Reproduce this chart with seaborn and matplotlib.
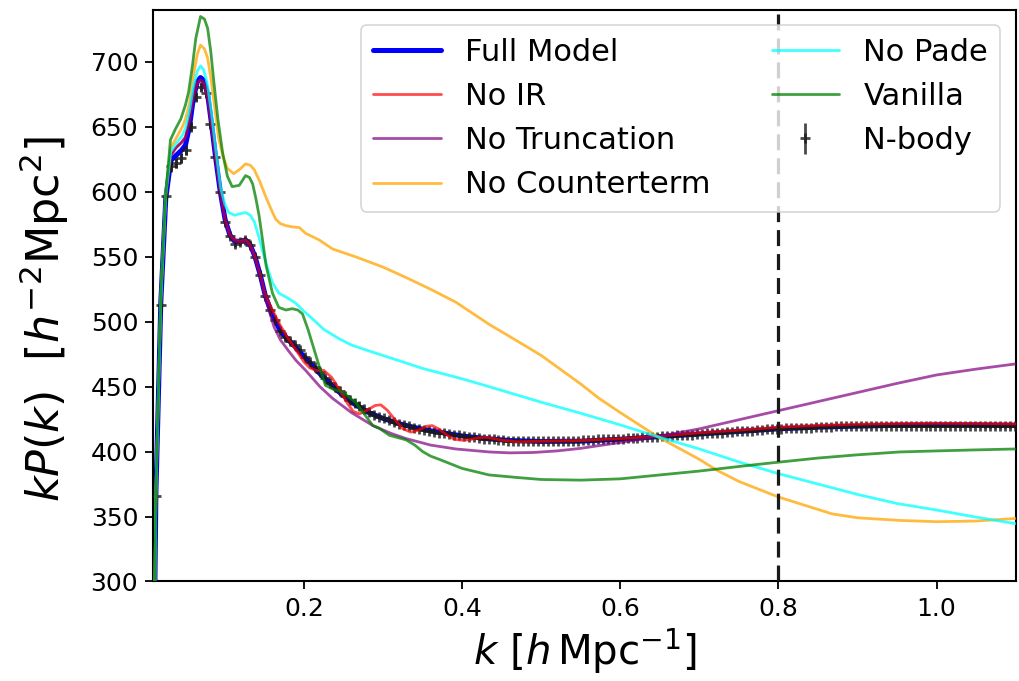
import matplotlib
matplotlib.use("Agg")
import matplotlib.pyplot as plt
import seaborn as sns
import numpy as np

# ---------------- data ----------------
full_k = [0.0095, 0.0126, 0.0188, 0.0251, 0.0314, 0.038, 0.045, 0.05, 0.055, 0.06, 0.065, 0.069, 0.073,
          0.078, 0.083, 0.088, 0.094, 0.1, 0.106, 0.112, 0.12, 0.126, 0.132, 0.138, 0.145, 0.151, 0.16,
          0.17, 0.18, 0.19, 0.2, 0.22, 0.24, 0.26, 0.28, 0.3, 0.32, 0.34, 0.36, 0.38, 0.4, 0.43, 0.46,
          0.5, 0.55, 0.6, 0.65, 0.7, 0.75, 0.8, 0.85, 0.9, 0.95, 1.0, 1.05, 1.1]
full_P = [200, 368, 515, 595, 624, 628, 632, 636, 650, 672, 685, 688, 686,
          675, 652, 627, 600, 579, 567, 562, 562, 563, 559, 550, 535, 520, 505,
          493, 486, 480, 473, 460, 448, 438, 430.5, 425.5, 421.5, 418.5, 416, 414, 412, 410, 408.5,
          407.8, 408, 409.5, 411.5, 413.5, 415.5, 417.5, 418.8, 419.6, 420.2, 420.5, 420.5, 420.2]

noir_k = [0.0095, 0.0126, 0.0188, 0.0251, 0.0314, 0.038, 0.045, 0.05, 0.055, 0.06, 0.065, 0.069, 0.073,
          0.078, 0.083, 0.088, 0.094, 0.1, 0.106, 0.112, 0.12, 0.126, 0.132, 0.138, 0.145, 0.151, 0.16,
          0.17, 0.18, 0.19, 0.2, 0.207, 0.215, 0.225, 0.235, 0.245, 0.255, 0.262, 0.27, 0.28, 0.29,
          0.297, 0.305, 0.315, 0.325, 0.335, 0.345, 0.355, 0.362, 0.37, 0.38, 0.39, 0.4, 0.41, 0.42,
          0.43, 0.44, 0.45, 0.47, 0.5, 0.55, 0.6, 0.65, 0.7, 0.75, 0.8, 0.85, 0.9, 0.95, 1.0, 1.05, 1.1]
noir_P = [200, 368, 516, 597, 628, 634, 638, 642, 655, 674, 684, 686, 684,
          673, 651, 627, 600, 579, 567, 563, 562, 563, 559, 550, 535, 521, 509,
          497, 487, 478, 469, 464.5, 462.5, 462.5, 457, 447.5, 437, 431, 429, 432, 435.5,
          436, 432, 424.5, 417.5, 415, 416.5, 419.5, 420, 417.5, 413, 409.5, 408.7, 409.2, 410.5,
          411, 410, 408.7, 407.5, 408, 408.5, 410, 412, 414.5, 416.5, 418.8, 420.2, 421, 421.6, 421.8, 421.6, 421.3]

notr_k = [0.0095, 0.0126, 0.0188, 0.0251, 0.0314, 0.038, 0.045, 0.05, 0.055, 0.06, 0.065, 0.069, 0.073,
          0.078, 0.083, 0.088, 0.094, 0.1, 0.106, 0.112, 0.12, 0.126, 0.132, 0.138, 0.145, 0.151, 0.162,
          0.17, 0.181, 0.19, 0.202, 0.22, 0.236, 0.26, 0.287, 0.31, 0.329, 0.36, 0.392, 0.434, 0.46,
          0.49, 0.52, 0.55, 0.6, 0.647, 0.7, 0.75, 0.8, 0.85, 0.9, 0.95, 1.0, 1.05, 1.1]
notr_P = [200, 368, 516, 597, 628, 634, 638, 642, 655, 674, 684, 686, 684,
          673, 651, 627, 600, 579, 567, 562, 561, 562, 558, 549, 534, 518, 496,
          486, 477, 470, 462.5, 450, 441, 430, 420, 414, 410, 405, 402, 399.7, 399,
          399.3, 400.5, 402.5, 407, 411.5, 417.5, 424.5, 431.5, 438.5, 445.5, 452.5, 459, 463.5, 467.5]

noct_k = [0.0095, 0.0126, 0.0188, 0.0251, 0.0314, 0.038, 0.046, 0.05, 0.055, 0.061, 0.065, 0.069, 0.074,
          0.078, 0.082, 0.087, 0.092, 0.098, 0.103, 0.111, 0.118, 0.126, 0.132, 0.137, 0.144, 0.151,
          0.158, 0.164, 0.17, 0.177, 0.185, 0.194, 0.202, 0.219, 0.236, 0.265, 0.3, 0.329, 0.36, 0.392,
          0.434, 0.47, 0.5, 0.55, 0.573, 0.6, 0.647, 0.7, 0.721, 0.75, 0.8, 0.868, 0.9, 0.953, 1.0, 1.05, 1.1]
noct_P = [200, 370, 520, 600, 634, 641, 650, 656, 668, 693, 706, 713, 710,
          703, 688, 665, 641, 626, 618, 614, 617, 621.5, 620.5, 617, 608, 597,
          587, 579, 575.5, 574, 573, 572.5, 568, 563, 556, 550, 542, 534, 525, 515,
          498, 485, 474, 452, 441, 430, 411.5, 394, 386, 377, 365, 352, 349, 347, 346, 346.5, 348.5]

nopade_k = [0.0095, 0.0126, 0.0188, 0.0251, 0.0314, 0.038, 0.046, 0.05, 0.055, 0.06, 0.065, 0.069, 0.073,
            0.078, 0.083, 0.088, 0.0945, 0.1, 0.105, 0.112, 0.118, 0.126, 0.132, 0.137, 0.143, 0.149,
            0.155, 0.16, 0.168, 0.177, 0.189, 0.2, 0.211, 0.225, 0.244, 0.26, 0.287, 0.32, 0.35, 0.4,
            0.434, 0.5, 0.55, 0.6, 0.647, 0.7, 0.75, 0.8, 0.85, 0.9, 0.95, 1.0, 1.05, 1.1]
nopade_P = [200, 368, 517, 598, 631, 637, 643.5, 649, 662, 681, 693, 697, 694,
            682, 660, 634, 603, 590, 584, 582, 583, 584, 582, 577, 565, 551,
            539, 530, 522, 519, 514.5, 508, 502, 494, 487, 482, 476.5, 470, 464, 456,
            450, 438, 429.5, 420.5, 411.5, 402, 392, 383, 375, 367, 360, 355, 349.5, 344.5]

van_k = [0.0095, 0.0126, 0.0188, 0.025, 0.031, 0.037, 0.044, 0.05, 0.054, 0.059, 0.063, 0.069, 0.074,
         0.078, 0.082, 0.086, 0.091, 0.097, 0.103, 0.109, 0.118, 0.126, 0.131, 0.135, 0.139, 0.143,
         0.147, 0.152, 0.16, 0.168, 0.177, 0.185, 0.192, 0.198, 0.205, 0.211, 0.219, 0.227, 0.237,
         0.248, 0.265, 0.287, 0.295, 0.308, 0.329, 0.34, 0.35, 0.36, 0.371, 0.4, 0.434, 0.47, 0.5,
         0.55, 0.6, 0.65, 0.7, 0.75, 0.784, 0.85, 0.9, 0.953, 1.0, 1.05, 1.1]
van_P = [200, 370, 522, 598, 640, 648, 656, 667, 677, 698, 718, 735, 733,
         726, 708, 684, 656, 630, 612, 604, 605, 612.5, 611, 606, 595, 582,
         565, 543, 522, 511, 509, 510, 509, 506, 494, 482, 466, 451, 448,
         446, 438, 420, 418, 412.5, 409, 405, 400, 396.5, 394, 387, 382, 380, 378.5,
         378, 379, 382, 385, 388.5, 390.8, 395, 397.5, 399.7, 400.5, 401.3, 402]

nbody_k = [0.0126, 0.0188, 0.0251, 0.0314, 0.0377, 0.0440, 0.0502, 0.0565, 0.0628, 0.0691,
           0.0754, 0.0816, 0.0879, 0.0942, 0.1005, 0.1068, 0.1130, 0.1193, 0.1256, 0.1319,
           0.1382, 0.1444, 0.1507, 0.1570, 0.1633, 0.1696, 0.1758, 0.1821, 0.1884, 0.1947,
           0.2010, 0.2072, 0.2135, 0.2198, 0.2261, 0.2324, 0.2386, 0.2449, 0.2512, 0.2575,
           0.2638, 0.2700, 0.2763, 0.2826, 0.2889, 0.2952, 0.3014, 0.3077, 0.3140, 0.3203,
           0.3266, 0.3328, 0.3391, 0.3454, 0.3517, 0.3580, 0.3642, 0.3705, 0.3768, 0.3831,
           0.3894, 0.3956, 0.4019, 0.4082, 0.4145, 0.4208, 0.4270, 0.4333, 0.4396, 0.4459,
           0.4522, 0.4584, 0.4647, 0.4710, 0.4773, 0.4836, 0.4898, 0.4961, 0.5024, 0.5087,
           0.5150, 0.5212, 0.5275, 0.5338, 0.5401, 0.5464, 0.5526, 0.5589, 0.5652, 0.5715,
           0.5778, 0.5840, 0.5903, 0.5966, 0.6029, 0.6092, 0.6154, 0.6217, 0.6280, 0.6343,
           0.6406, 0.6468, 0.6531, 0.6594, 0.6657, 0.6720, 0.6782, 0.6845, 0.6908, 0.6971,
           0.7034, 0.7096, 0.7159, 0.7222, 0.7285, 0.7348, 0.7410, 0.7473, 0.7536, 0.7599,
           0.7662, 0.7724, 0.7787, 0.7850, 0.7913, 0.7976, 0.8038, 0.8101, 0.8164, 0.8227,
           0.8290, 0.8352, 0.8415, 0.8478, 0.8541, 0.8604, 0.8666, 0.8729, 0.8792, 0.8855,
           0.8918, 0.8980, 0.9043, 0.9106, 0.9169, 0.9232, 0.9294, 0.9357, 0.9420, 0.9483,
           0.9546, 0.9608, 0.9671, 0.9734, 0.9797, 0.9860, 0.9922, 0.9985, 1.0048, 1.0111,
           1.0174, 1.0236, 1.0299, 1.0362, 1.0425, 1.0488, 1.0550, 1.0613, 1.0676, 1.0739,
           1.0802, 1.0864, 1.0927, 1.0990]
nbody_P = [366, 513, 597, 620, 622, 626, 632, 650, 673, 681,
           676, 652, 627, 600, 577, 566, 560, 561, 563, 559,
           550, 536, 520, 509, 501, 493, 488, 485, 482, 478,
           473, 469, 465, 461, 457, 453, 449.5, 446.5, 443, 440,
           437.5, 435, 432.5, 430.5, 428.5, 427, 425.5, 424, 422.5, 421.5,
           420.5, 419.5, 418.5, 417.5, 416.5, 416, 415, 414.5, 414, 413.5,
           413, 412.5, 412, 411.5, 411, 410.5, 410, 410, 409.5, 409,
           409, 408.5, 408.5, 408.5, 408, 408, 408, 408, 408, 408,
           408, 408, 408, 408.5, 408.5, 408.5, 409, 409, 409, 409.5,
           409.5, 409.5, 410, 410, 410, 410.5, 410.5, 410.5, 411, 411,
           411.5, 411.5, 412, 412, 412, 412.5, 412.5, 413, 413, 413.5,
           413.5, 414, 414, 414.5, 414.5, 415, 415, 415.5, 415.5, 416,
           416, 416.5, 416.5, 417, 417, 417.5, 417.5, 418, 418, 418,
           418.5, 418.5, 418.5, 419, 419, 419, 419, 419.5, 419.5, 419.5,
           419.5, 419.5, 420, 420, 420, 420, 420, 420, 420, 420,
           420, 420, 420, 420, 420, 420, 420, 420, 420, 420,
           420, 420, 420, 420, 420, 420, 420, 419.5, 419.5, 419.5,
           419.5, 419.5, 419.5, 419.5]
nbody_err = [7, 6, 5, 4.5, 4, 4, 3.5, 3.5, 3, 3,
             3, 3, 2.5, 2.5, 2.5, 2.5, 2.5, 2, 2, 2,
             2, 2, 2, 2, 1.8, 1.8, 1.8, 1.8, 1.6, 1.6,
             1.6, 1.6, 1.5, 1.5, 1.5, 1.5, 1.4, 1.4, 1.4, 1.4,
             1.3, 1.3, 1.3, 1.3, 1.3, 1.2, 1.2, 1.2, 1.2, 1.2,
             1.2, 1.2, 1.2, 1.1, 1.1, 1.1, 1.1, 1.1, 1.1, 1.1,
             1.1, 1.1, 1.1, 1.1, 1.0, 1.0, 1.0, 1.0, 1.0, 1.0,
             1.0, 1.0, 1.0, 1.0, 1.0, 1.0, 1.0, 1.0, 1.0, 1.0,
             1.0, 1.0, 1.0, 1.0, 1.0, 1.0, 1.0, 1.0, 1.0, 1.0,
             1.0, 1.0, 1.0, 1.0, 1.0, 1.0, 1.0, 1.0, 1.0, 1.0,
             1.0, 1.0, 1.0, 1.0, 1.0, 1.0, 1.0, 1.0, 1.0, 1.0,
             1.0, 1.0, 1.0, 1.0, 1.0, 1.0, 1.0, 1.0, 1.0, 1.0,
             1.0, 1.0, 1.0, 1.0, 1.0, 1.0, 1.0, 1.0, 1.0, 1.0,
             1.0, 1.0, 1.0, 1.0, 1.0, 1.0, 1.0, 1.0, 1.0, 1.0,
             1.0, 1.0, 1.0, 1.0, 1.0, 1.0, 1.0, 1.0, 1.0, 1.0,
             1.0, 1.0, 1.0, 1.0, 1.0, 1.0, 1.0, 1.0, 1.0, 1.0,
             1.0, 1.0, 1.0, 1.0, 1.0, 1.0, 1.0, 1.0, 1.0, 1.0,
             1.0, 1.0, 1.0, 1.0]

x_ticks = [0.2, 0.4, 0.6, 0.8, 1.0]
y_ticks = [300, 350, 400, 450, 500, 550, 600, 650, 700]
k_cut = 0.8

# ---------------- style ----------------
sns.set_theme(style="ticks")
plt.rcParams['font.family'] = ['DejaVu Sans']
plt.rcParams['mathtext.fontset'] = 'dejavusans'
plt.rcParams['text.color'] = 'black'
plt.rcParams['axes.labelcolor'] = 'black'
plt.rcParams['xtick.color'] = 'black'
plt.rcParams['ytick.color'] = 'black'

fig = plt.figure(figsize=(10.19, 6.81), dpi=100)
ax = fig.add_axes([0.1506, 0.1462, 0.8461, 0.8391])

series = [
    ("Full Model", full_k, full_P, "blue", 3.6, 1.0),
    ("No IR", noir_k, noir_P, "red", 2.0, 0.7),
    ("No Truncation", notr_k, notr_P, "purple", 2.0, 0.7),
    ("No Counterterm", noct_k, noct_P, "orange", 2.0, 0.75),
    ("No Pade", nopade_k, nopade_P, "cyan", 2.0, 0.75),
    ("Vanilla", van_k, van_P, "green", 2.0, 0.75),
]

handles = []
for i, (lab, kk, pp, col, lw, al) in enumerate(series):
    sns.lineplot(x=kk, y=pp, ax=ax, color=col, linewidth=lw, alpha=al,
                 sort=False, estimator=None, zorder=2 if i == 0 else 3)
    handles.append(ax.lines[-1])

eb = ax.errorbar(nbody_k, nbody_P, yerr=nbody_err, fmt='+', color='k', ms=7, mew=2.0,
                 elinewidth=2.0, alpha=0.8, zorder=2.5)

ax.axvline(k_cut, color='k', linestyle=(0, (5, 2.5)), linewidth=2.3, zorder=4)

ax.set_xlim(0.0095, 1.1)
ax.set_ylim(300, 740)
ax.set_xticks(x_ticks)
ax.set_xticklabels([f"{t:.1f}" for t in x_ticks])
ax.set_yticks(y_ticks)
ax.tick_params(axis='both', direction='out', length=6, width=1.3, labelsize=18, pad=5)
for sp in ax.spines.values():
    sp.set_color('black')
    sp.set_linewidth(1.5)
    sp.set_visible(True)

ax.set_xlabel(r'$k\ [h\,\mathrm{Mpc}^{-1}]$', fontsize=29, labelpad=4)
ax.set_ylabel(r'$kP(k)\ \ [h^{-2}\mathrm{Mpc}^{2}]$', fontsize=32)
ax.yaxis.set_label_coords(-0.096, 0.46)

labels = [s[0] for s in series] + ["N-body"]
leg = ax.legend(handles + [eb], labels, ncol=2, loc='upper right', fontsize=22,
                columnspacing=2.0, handlelength=2.2, handletextpad=0.8,
                frameon=True, framealpha=0.8, edgecolor='0.8', fancybox=True,
                borderaxespad=0.5)
leg.get_frame().set_linewidth(1.2)
leg.set_zorder(5)

fig.savefig("out.png", dpi=100)
